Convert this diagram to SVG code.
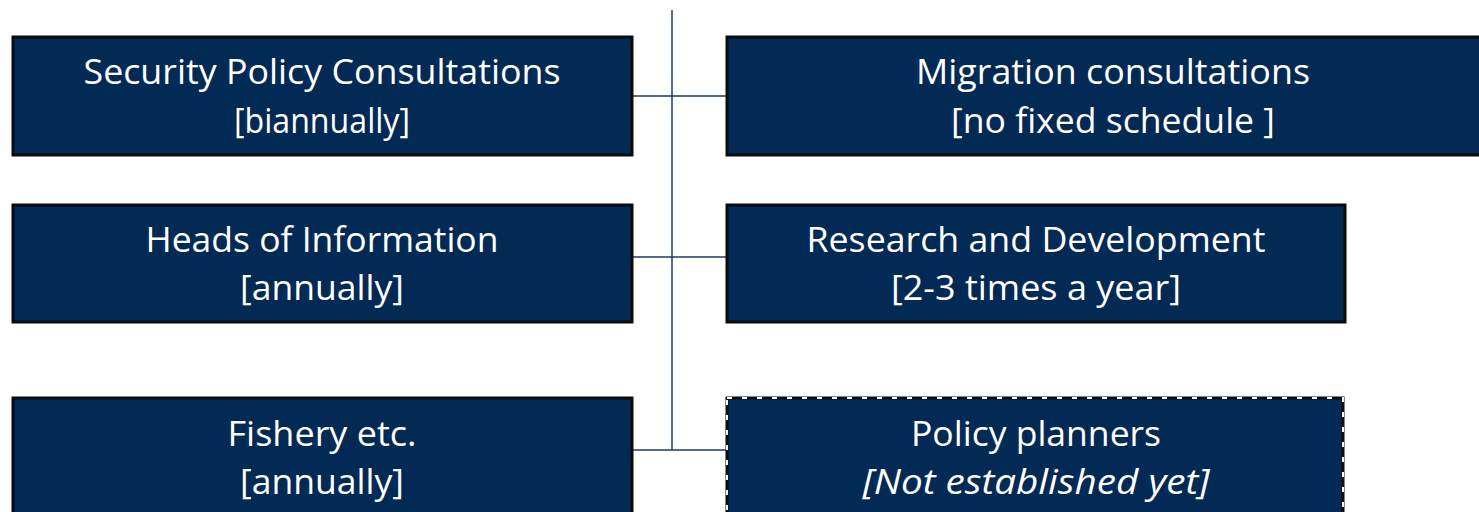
<svg xmlns="http://www.w3.org/2000/svg" width="1479" height="512" viewBox="0 0 1479 512">
<style>
.box{fill:#022a54;stroke:#0b0b0b;stroke-width:3}
.dash{fill:none;stroke:#ffffff;stroke-width:2;stroke-dasharray:5 10}
.t{font-family:"Open Sans","Liberation Sans",sans-serif;font-size:35px;fill:#ffffff;text-anchor:middle}
.it{font-style:italic}
.c{stroke:#1f3a5c;stroke-width:1.5;fill:none}
</style>
<rect width="1479" height="512" fill="#ffffff"/>
<g id="connectors">
<line class="c" x1="672" y1="10" x2="672" y2="450"/>
<line class="c" x1="632" y1="96" x2="727" y2="96"/>
<line class="c" x1="632" y1="257" x2="727" y2="257"/>
<line class="c" x1="632" y1="450" x2="727" y2="450"/>
</g>
<g id="n1">
<rect class="box" x="13" y="37" width="619" height="118"/>
<text class="t" x="322" y="84" textLength="477" lengthAdjust="spacingAndGlyphs">Security Policy Consultations</text>
<text class="t" x="322" y="133" textLength="176" lengthAdjust="spacingAndGlyphs">[biannually]</text>
</g>
<g id="n2">
<rect class="box" x="727" y="37" width="760" height="118"/>
<text class="t" x="1113" y="84" textLength="394" lengthAdjust="spacingAndGlyphs">Migration consultations</text>
<text class="t" x="1113" y="133" textLength="324" lengthAdjust="spacingAndGlyphs">[no fixed schedule ]</text>
</g>
<g id="n3">
<rect class="box" x="13" y="205" width="619" height="117"/>
<text class="t" x="322" y="252" textLength="353" lengthAdjust="spacingAndGlyphs">Heads of Information</text>
<text class="t" x="322" y="300" textLength="164" lengthAdjust="spacingAndGlyphs">[annually]</text>
</g>
<g id="n4">
<rect class="box" x="727" y="205" width="618" height="117"/>
<text class="t" x="1036" y="252" textLength="459" lengthAdjust="spacingAndGlyphs">Research and Development</text>
<text class="t" x="1036" y="300" textLength="290" lengthAdjust="spacingAndGlyphs">[2-3 times a year]</text>
</g>
<g id="n5">
<rect class="box" x="13" y="398" width="619" height="130"/>
<text class="t" x="322" y="446" textLength="189" lengthAdjust="spacingAndGlyphs">Fishery etc.</text>
<text class="t" x="322" y="494" textLength="164" lengthAdjust="spacingAndGlyphs">[annually]</text>
</g>
<g id="n6">
<rect class="box" x="727" y="398" width="616" height="130"/>
<rect class="dash" x="727" y="398" width="616" height="130"/>
<text class="t" x="1036" y="446" textLength="250" lengthAdjust="spacingAndGlyphs">Policy planners</text>
<text class="t it" x="1036" y="494" textLength="347" lengthAdjust="spacingAndGlyphs">[Not established yet]</text>
</g>
</svg>
